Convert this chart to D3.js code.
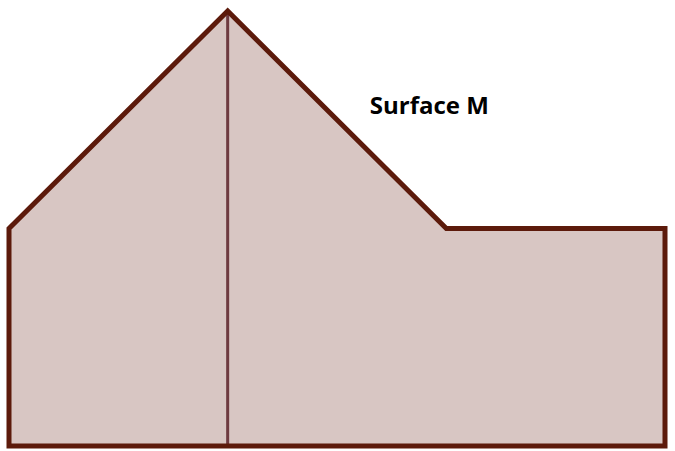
<!DOCTYPE html>
<html><head><meta charset="utf-8">
<script src="https://cdn.jsdelivr.net/npm/d3@7"></script>
<style>body{margin:0;background:#fff}svg{display:block}</style>
</head><body>
<script>
const xs = [0, 100, 200, 300, 300, 0];
const ys = [100, 200, 100, 100, 0, 0];
const divider = [[100, 0], [100, 200]];
const labels = [{text: "Surface M", x: 165, y: 152.5}];

const W = 675, H = 451;
const x = d3.scaleLinear().domain([0, 300]).range([9, 665]);
const y = d3.scaleLinear().domain([0, 200]).range([446, 11]);
const svg = d3.select("body").append("svg").attr("width", W).attr("height", H);
const pts = xs.map((v, i) => [x(v), y(ys[i])]);
svg.append("path").attr("d", d3.line()(pts) + "Z")
  .attr("fill", "#d8c6c3").attr("stroke", "none");
svg.append("path").attr("d", d3.line()(divider.map(d => [x(d[0]), y(d[1])])))
  .attr("stroke", "#6e3a40").attr("stroke-width", 3).attr("fill", "none");
svg.append("path").attr("d", d3.line()(pts) + "Z")
  .attr("fill", "none").attr("stroke", "#5c1a0b").attr("stroke-width", 5)
  .attr("stroke-linejoin", "miter");
svg.selectAll("text.lbl").data(labels).enter().append("text")
  .attr("x", d => x(d.x)).attr("y", d => y(d.y))
  .attr("font-family", "Open Sans").attr("font-weight", "bold").attr("font-size", 24)
  .attr("fill", "#000").text(d => d.text);
</script>
</body></html>
